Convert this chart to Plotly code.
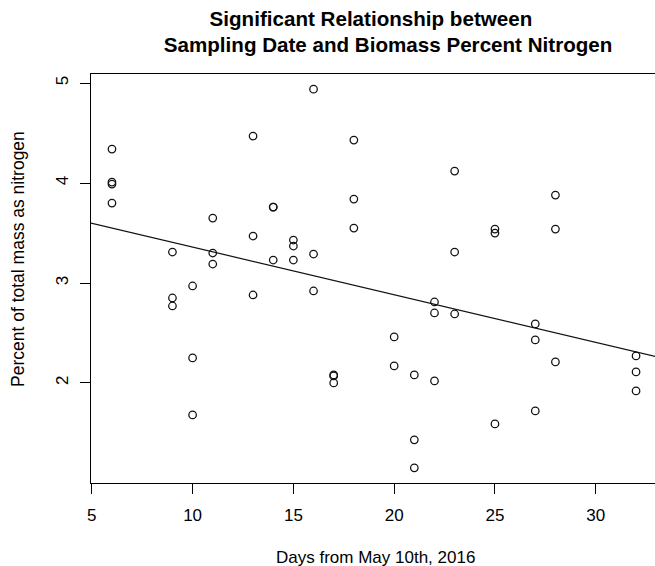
import numpy as np
import plotly.graph_objects as go

# Days from May 10th, 2016 (x) and percent nitrogen (y)
days = [6, 6, 6, 6,
        9, 9, 9,
        10, 10, 10,
        11, 11, 11,
        13, 13, 13,
        14, 14, 14,
        15, 15, 15,
        16, 16, 16,
        17, 17, 17,
        18, 18, 18,
        20, 20,
        21, 21, 21,
        22, 22, 22,
        23, 23, 23,
        25, 25, 25,
        27, 27, 27,
        28, 28, 28,
        32, 32, 32]
nitrogen = [4.34, 4.01, 3.99, 3.80,
            3.31, 2.85, 2.77,
            2.97, 2.25, 1.68,
            3.65, 3.30, 3.19,
            4.47, 3.47, 2.88,
            3.76, 3.76, 3.23,
            3.43, 3.37, 3.23,
            4.94, 3.29, 2.92,
            2.08, 2.07, 2.00,
            4.43, 3.84, 3.55,
            2.46, 2.17,
            2.08, 1.43, 1.15,
            2.81, 2.70, 2.02,
            4.12, 3.31, 2.69,
            3.54, 3.50, 1.59,
            2.59, 2.43, 1.72,
            3.88, 3.54, 2.21,
            2.27, 2.11, 1.92]

x_ticks = [5, 10, 15, 20, 25, 30]
y_ticks = [2, 3, 4, 5]

title_line1 = "Significant Relationship between"
title_line2 = "Sampling Date and Biomass Percent Nitrogen"
x_label = "Days from May 10th, 2016"
y_label = "Percent of total mass as nitrogen"

FONT = "Liberation Sans, Arial, Helvetica, sans-serif"

x_arr = np.array(days, dtype=float)
y_arr = np.array(nitrogen, dtype=float)

# R-style axis ranges (data range padded by 4%)
def r_range(a):
    lo, hi = a.min(), a.max()
    pad = (hi - lo) * 0.04
    return lo - pad, hi + pad

x_lo, x_hi = r_range(x_arr)
y_lo, y_hi = r_range(y_arr)
x_view_hi = x_hi - 0.1  # picture is cropped just before the right edge of the box

# least-squares fit line (abline(lm(y ~ x)))
slope, intercept = np.polyfit(x_arr, y_arr, 1)
fit_x = np.array([x_lo, x_hi])
fit_y = intercept + slope * fit_x

fig = go.Figure()
fig.add_trace(go.Scatter(
    x=days, y=nitrogen, mode="markers",
    marker=dict(symbol="circle-open", size=7.5, color="#111111",
                line=dict(width=1.25, color="#111111")),
    showlegend=False, hoverinfo="x+y"))
fig.add_trace(go.Scatter(
    x=fit_x, y=fit_y, mode="lines",
    line=dict(color="#111111", width=1.2),
    showlegend=False, hoverinfo="skip"))

nb = "&nbsp;" * 3
fig.update_layout(
    width=655, height=566,
    margin=dict(l=91, r=0, t=74, b=83, pad=0),
    paper_bgcolor="white", plot_bgcolor="white",
    font=dict(family=FONT, size=17, color="black"),
    title=dict(text="<b>" + title_line1 + nb + "<br>" + nb + title_line2 + "</b>",
               x=379.5 / 655, xanchor="center", xref="container",
               y=1 - 25.5 / 566, yanchor="top", yref="container",
               font=dict(family=FONT, size=20.6, color="black")),
    xaxis=dict(range=[x_lo, x_view_hi], tickvals=x_ticks,
               ticks="outside", ticklen=10, tickwidth=1, tickcolor="black",
               showline=True, linecolor="black", linewidth=1, mirror=True,
               showgrid=False, zeroline=False, ticklabelstandoff=7,
               tickfont=dict(family=FONT, size=17, color="black")),
    yaxis=dict(range=[y_lo, y_hi], tickvals=y_ticks, tickangle=-90,
               ticks="outside", ticklen=10, tickwidth=1, tickcolor="black",
               showline=True, linecolor="black", linewidth=1, mirror=False,
               showgrid=False, zeroline=False, ticklabelstandoff=5,
               tickfont=dict(family=FONT, size=17, color="black")),
    annotations=[
        dict(text=x_label, xref="paper", yref="paper",
             x=(375 - 91) / 564, y=(483 - 557) / 409,
             xanchor="center", yanchor="middle", showarrow=False,
             font=dict(family=FONT, size=17, color="black")),
        dict(text=y_label, xref="paper", yref="paper",
             x=(18 - 91) / 564, y=(483 - 259) / 409, textangle=-90,
             xanchor="center", yanchor="middle", showarrow=False,
             font=dict(family=FONT, size=17.5, color="black")),
    ],
)

fig.write_html("out.html",
               config={"displayModeBar": False},
               post_script="document.body.style.margin='0';"
                           "document.body.style.overflow='hidden';")
